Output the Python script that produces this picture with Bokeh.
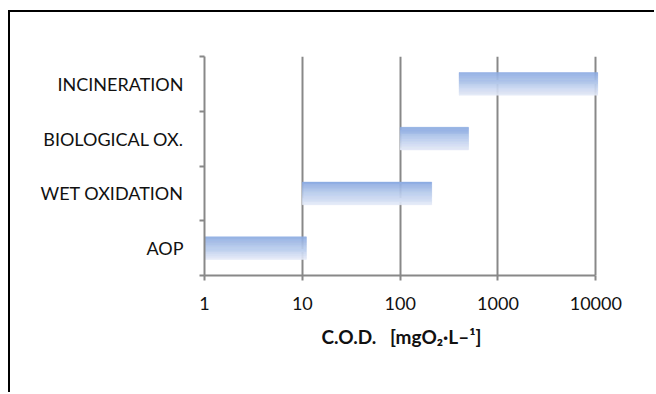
from bokeh.plotting import figure
from bokeh.models import Range1d, FixedTicker, LinearAxis
from bokeh.embed import file_html
from bokeh.resources import INLINE

# ---- data ----
categories = ["AOP", "WET OXIDATION", "BIOLOGICAL OX.", "INCINERATION"]
cod_low = [1, 10, 100, 400]
cod_high = [11, 210, 500, 10500]
x_ticks = [1, 10, 100, 1000, 10000]
x_tick_labels = ["1", "10", "100", "1000", "10000"]
x_title = "C.O.D.\u00a0\u00a0\u00a0[mgO\u2082\u00b7L\u2013\u00b9]"

FONT = "Lato"
GRAY = "#888888"

p = figure(width=646, height=382, x_axis_type="log",
           x_range=Range1d(1, 10650), y_range=Range1d(0, len(categories)),
           output_backend="svg", toolbar_location=None,
           min_border_left=194, min_border_top=44,
           min_border_right=58, min_border_bottom=119,
           y_axis_location=None)
p.margin = (10, 0, 0, 8)
p.styles = {"border-left": "2px solid black", "border-top": "2px solid black"}
p.outline_line_color = None
p.background_fill_color = "white"
p.border_fill_color = "white"

# gradient bars drawn as stacked strips
N = 24
h = 0.415
top_rgb = (141, 172, 226)
bot_rgb = (226, 233, 247)
L, R, T, B, C = [], [], [], [], []
for i, cat in enumerate(categories):
    yc = i + 0.5
    for k in range(N):
        t = k / (N - 1)
        rgb = tuple(int(round(top_rgb[j] + (bot_rgb[j] - top_rgb[j]) * t)) for j in range(3))
        col = "#%02x%02x%02x" % rgb
        L.append(cod_low[i]); R.append(cod_high[i])
        T.append(yc + h / 2 - k * h / N); B.append(yc + h / 2 - (k + 1) * h / N)
        C.append(col)
p.quad(left=L, right=R, top=T, bottom=B, fill_color=C, line_color=C, line_width=0.4)

# x axis
xa = p.xaxis[0]
xa.ticker = FixedTicker(ticks=x_ticks)
xa.major_label_overrides = {x: s for x, s in zip(x_ticks, x_tick_labels)}
xa.bounds = (x_ticks[0], x_ticks[-1])
xa.axis_line_color = GRAY
xa.axis_line_width = 2
xa.major_tick_line_color = GRAY
xa.major_tick_line_width = 2
xa.major_tick_out = 5
xa.major_tick_in = 0
xa.minor_tick_line_color = None
xa.major_label_text_font = FONT
xa.major_label_text_font_size = "18px"
xa.major_label_text_color = "#111111"
xa.major_label_standoff = 16
xa.axis_label = x_title
xa.axis_label_text_font = FONT
xa.axis_label_text_font_size = "19px"
xa.axis_label_text_font_style = "bold"
xa.axis_label_text_color = "#111111"
xa.axis_label_standoff = 12

p.xgrid.ticker = FixedTicker(ticks=x_ticks)
p.xgrid.grid_line_color = GRAY
p.xgrid.grid_line_width = 2
p.ygrid.grid_line_color = None

# y axis with labels at category centres and ticks at boundaries
centres = [i + 0.5 for i in range(len(categories))]
bounds_y = list(range(len(categories) + 1))
ya = LinearAxis(ticker=FixedTicker(ticks=centres, minor_ticks=bounds_y))
ya.major_label_overrides = {c: s for c, s in zip(centres, categories)}
ya.axis_line_color = GRAY
ya.axis_line_width = 2
ya.major_tick_line_color = None
ya.major_tick_out = 0
ya.major_tick_in = 0
ya.minor_tick_line_color = GRAY
ya.minor_tick_line_width = 2
ya.minor_tick_out = 5
ya.minor_tick_in = 0
ya.major_label_text_font = FONT
ya.major_label_text_font_size = "18px"
ya.major_label_text_color = "#111111"
ya.major_label_standoff = 16
p.add_layout(ya, "left")

open("out.html", "w").write(file_html(p, INLINE))
